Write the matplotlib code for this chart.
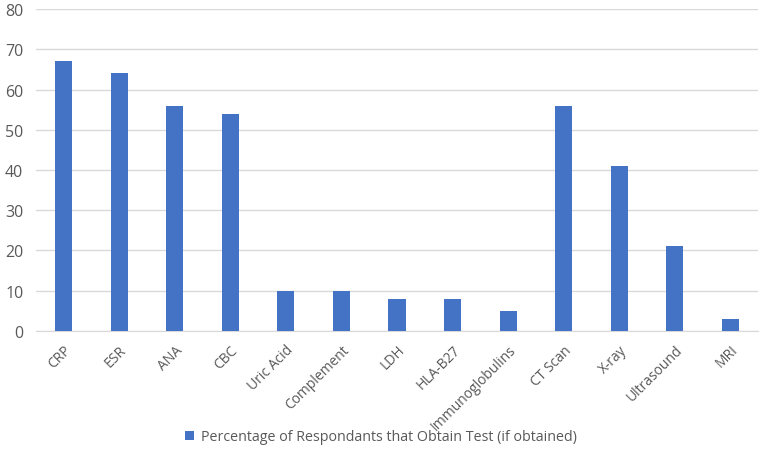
import matplotlib.pyplot as plt
from matplotlib.patches import Patch

categories = ["CRP", "ESR", "ANA", "CBC", "Uric Acid", "Complement", "LDH",
              "HLA-B27", "Immunoglobulins", "CT Scan", "X-ray", "Ultrasound", "MRI"]
percentages = [67, 64, 56, 54, 10, 10, 8, 8, 5, 56, 41, 21, 3]
series_name = "Percentage of Respondants that Obtain Test (if obtained)"

bar_color = "#4472C4"
text_color = "#595959"

plt.rcParams["font.family"] = ["Open Sans", "DejaVu Sans"]

fig = plt.figure(figsize=(7.62, 4.77), dpi=100)
ax = fig.add_axes([0.047, 0.304, 0.948, 0.675])

x = range(len(categories))
ax.bar(x, percentages, width=0.31, color=bar_color, zorder=3)

ax.set_xlim(-0.5, len(categories) - 0.5)
ax.set_ylim(0, 80)
ax.set_yticks(range(0, 81, 10))
ax.set_xticks(list(x))
ax.set_xticklabels(categories, rotation=45, ha="right", rotation_mode="anchor")
ax.tick_params(axis="both", length=0, colors=text_color)
ax.tick_params(axis="x", pad=8, labelsize=10)
ax.tick_params(axis="y", pad=9, labelsize=11.5)

ax.grid(axis="y", color="#D9D9D9", linewidth=1, zorder=0)
for side in ["top", "right", "left"]:
    ax.spines[side].set_visible(False)
ax.spines["bottom"].set_color("#D9D9D9")

handle = Patch(facecolor=bar_color, edgecolor="none")
fig.legend([handle], [series_name], loc="center", bbox_to_anchor=(0.5, 0.082),
           frameon=False, fontsize=10.3, labelcolor=text_color,
           handlelength=0.6, handleheight=0.6, handletextpad=0.5)

fig.savefig("out.png", dpi=100)
